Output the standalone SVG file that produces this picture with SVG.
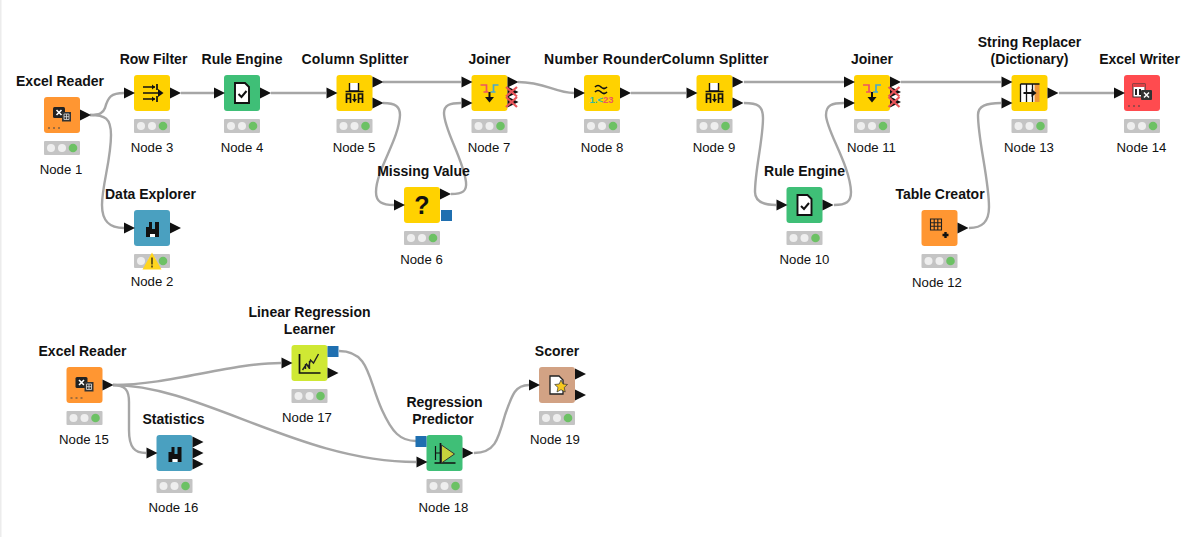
<svg xmlns="http://www.w3.org/2000/svg" xmlns:xlink="http://www.w3.org/1999/xlink" width="1190" height="537" viewBox="0 0 1190 537">
<style>
text{font-family:"Liberation Sans",Arial,sans-serif;fill:#111;text-anchor:middle}
.t{font-size:14px;font-weight:bold}
.n{font-size:13.200px}
.c{fill:none;stroke:#a6a6a6;stroke-width:2.400}
.k{fill:#111}
.l{fill:none;stroke:#111;stroke-width:1.700}
.o{fill:#ff9632}.y{fill:#ffd200}.g{fill:#3fbf77}.u{fill:#4aa0c0}.r{fill:#ff4b4f}.m{fill:#cfe834}.s{fill:#d2a284}
.x{fill:none;stroke:#e8555a;stroke-width:2.200}
</style>
<defs>
<polygon id="p" points="0,-5.500 11,0 0,5.500" fill="#111"/>
<g id="lights"><rect x="0" y="44" width="36" height="14" rx="1" fill="#c4c4c4"/><circle cx="7" cy="51" r="4" fill="#eee"/><circle cx="18" cy="51" r="4" fill="#eee"/><circle cx="29" cy="51" r="4.300" fill="#6cc164"/></g>
<rect id="box" width="36" height="36" rx="3"/>
<g id="blue"><rect width="11" height="11" fill="#1f6fb0"/></g>
<g id="excel"><rect x="9" y="10" width="12" height="11" rx="1.500" fill="#222"/><path d="M12.500 13l5 5M17.500 13l-5 5" stroke="#fff" stroke-width="1.600"/><rect x="18" y="15" width="9" height="9.500" fill="#333"/><path d="M20 17h5v5.500h-5zM20 19.700h5M22.500 17v5.500" stroke="#ddd" stroke-width=".8" fill="none"/><path d="M4 31h2M9 31h2M14 31h2" stroke="#444" stroke-width="1"/></g>
<g id="split"><path d="M13 8v8h9v-8" fill="#fff" stroke="none"/><path d="M13 8v8h9v-8" fill="none" stroke="#111" stroke-width="1.400"/><path d="M9 16.500h18" stroke="#111" stroke-width="1.500"/><path class="l" d="M10 28v-9h4v9M10 23.500h4M22 28v-9h4v9M22 23.500h4M18 19v6"/><path class="k" d="M15.500 24h5l-2.500 3.500z"/></g>
<g id="join"><path d="M9 10h6v7M12 17h5" fill="none" stroke="#ee5560" stroke-width="1.700"/><path d="M27 10h-5v7M19 17h5" fill="none" stroke="#4aa8cc" stroke-width="1.700"/><path d="M18 17v8" stroke="#111" stroke-width="2"/><path class="k" d="M13.500 22h9l-4.500 5.500z"/></g>
<g id="crossed"><path class="x" d="M34.500 12l11 9.500M45.500 12l-11 9.500M34.500 22l11 10M45.500 22l-11 10"/></g>
<g id="rule"><path d="M11 8h10l4 4v16h-14z" fill="#fff" stroke="#111" stroke-width="1.900"/><path d="M14.500 19l3 3 5-6" fill="none" stroke="#111" stroke-width="2"/></g>
<g id="stat"><path class="k" d="M12 17h3v-5h3v7h3v-7h4v15h-4v-3h-5v3h-4z"/><rect x="16" y="24" width="5" height="3" fill="#fff"/></g>
</defs>
<rect width="1190" height="537" fill="#fff"/>
<rect width="1.500" height="537" fill="#ececec"/>
<g id="connectors">
<path class="c" d="M90 115C100 115 103 113 105 108 108 97 111 93 124 93"/>
<path class="c" d="M90 115C105 115 111 118 111 135 111 160 102 185 102 205 102 222 110 228 124 228"/>
<path class="c" d="M181 93H214"/>
<path class="c" d="M271 93H326"/>
<path class="c" d="M383 82H461"/>
<path class="c" d="M383 103C396 103 400 107 400 115 399 140 376 170 376 192 376 202 382 205 394 205"/>
<path class="c" d="M451 194C463 194 467 191 466 182 463 158 444 130 444 113 444 105 450 103 461 103"/>
<path class="c" d="M518 82C545 82 555 93 574 93"/>
<path class="c" d="M631 93H686"/>
<path class="c" d="M744 82H844"/>
<path class="c" d="M744 103C758 103 763 106 763 118 763 140 755 170 755 192 755 201 762 205 776 205"/>
<path class="c" d="M834 205C846 205 851 202 851 192 850 165 826 130 826 115 826 105 832 103 844 103"/>
<path class="c" d="M901 82H1001"/>
<path class="c" d="M969 228C983 228 989 221 989 207 989 180 978 140 978 115 978 106 986 103 1001 103"/>
<path class="c" d="M1059 93H1114"/>
<path class="c" d="M113 385C170 385 230 363 281 363"/>
<path class="c" d="M113 385C200 385 300 462 416 462"/>
<path class="c" d="M113 385C125 385 129 390 129 402V430C129 448 135 453 146 453"/>
<path class="c" d="M339 351C370 351 368 380 382 410 392 432 400 441 416 441"/>
<path class="c" d="M474 453C495 453 498 440 505 415 512 395 515 385 529 385"/>
</g>
<g id="node1" transform="translate(44,97)"><use href="#box" class="o"/><use href="#excel"/><use href="#lights"/><use href="#p" x="36" y="18"/><text class="t" x="16" y="-11">Excel Reader</text><text class="n" x="17" y="77">Node 1</text></g>
<g id="node2" transform="translate(134,210)"><use href="#box" class="u"/><use href="#stat"/><use href="#lights"/><use href="#p" x="-10" y="18"/><use href="#p" x="36" y="18"/><path d="M18 42.500l9.500 17h-19z" fill="#ffd51e"/><path d="M18 47.500v7M18 55.500v2" stroke="#111" stroke-width="1.200"/><text class="t" x="16.500" y="-11">Data Explorer</text><text class="n" x="18" y="76">Node 2</text></g>
<g id="node3" transform="translate(134,75)"><use href="#box" class="y"/><path d="M9 12h12M9 24h12M9 18h17" class="l"/><path d="M23 9v6M23 21v6" class="l"/><path class="k" d="M18 9.500l3 2.500-3 2.500zM18 21.500l3 2.500-3 2.500zM24 14l5.500 4-5.500 4z"/><use href="#lights"/><use href="#p" x="-10" y="18"/><use href="#p" x="36" y="18"/><text class="t" x="19.500" y="-11">Row Filter</text><text class="n" x="18" y="77">Node 3</text></g>
<g id="node4" transform="translate(224,75)"><use href="#box" class="g"/><use href="#rule"/><use href="#lights"/><use href="#p" x="-10" y="18"/><use href="#p" x="36" y="18"/><text class="t" x="18" y="-11">Rule Engine</text><text class="n" x="18" y="77">Node 4</text></g>
<g id="node5" transform="translate(336.500,75)"><use href="#box" class="y"/><use href="#split"/><use href="#lights"/><use href="#p" x="-10" y="18"/><use href="#p" x="36" y="7"/><use href="#p" x="36" y="28"/><text class="t" x="18.500" y="-11" textLength="107" lengthAdjust="spacing">Column Splitter</text><text class="n" x="17.500" y="77">Node 5</text></g>
<g id="node6" transform="translate(404,187)"><use href="#box" class="y"/><text x="18" y="27" style="font-size:25px;font-weight:bold">?</text><use href="#lights"/><use href="#p" x="-10" y="18"/><use href="#p" x="36" y="7"/><use href="#blue" x="37" y="23"/><text class="t" x="19.500" y="-11">Missing Value</text><text class="n" x="17.500" y="77">Node 6</text></g>
<g id="node7" transform="translate(471.500,75)"><use href="#box" class="y"/><use href="#join"/><use href="#lights"/><use href="#p" x="-10" y="7"/><use href="#p" x="-10" y="28"/><use href="#p" x="36" y="7"/><use href="#p" x="36" y="17"/><use href="#p" x="36" y="27"/><use href="#crossed"/><text class="t" x="18" y="-11">Joiner</text><text class="n" x="17.500" y="77">Node 7</text></g>
<g id="node8" transform="translate(584,75)"><use href="#box" class="y"/><path d="M11 12q3-3 6 0t6 0M11 17q3-3 6 0t6 0" class="l"/><text x="17.500" y="28" style="font-size:9.500px;font-weight:bold"><tspan fill="#35b8a0">1.&lt;</tspan><tspan fill="#ee5560">23</tspan></text><use href="#lights"/><use href="#p" x="-10" y="18"/><use href="#p" x="36" y="18"/><text class="t" x="19" y="-11" textLength="118" lengthAdjust="spacing">Number Rounder</text><text class="n" x="18" y="77">Node 8</text></g>
<g id="node9" transform="translate(696.500,75)"><use href="#box" class="y"/><use href="#split"/><use href="#lights"/><use href="#p" x="-10" y="18"/><use href="#p" x="36" y="7"/><use href="#p" x="36" y="28"/><text class="t" x="18.500" y="-11" textLength="107" lengthAdjust="spacing">Column Splitter</text><text class="n" x="17.500" y="77">Node 9</text></g>
<g id="node10" transform="translate(786.500,187)"><use href="#box" class="g"/><use href="#rule"/><use href="#lights"/><use href="#p" x="-10" y="18"/><use href="#p" x="36" y="18"/><text class="t" x="18" y="-11">Rule Engine</text><text class="n" x="18" y="77">Node 10</text></g>
<g id="node11" transform="translate(854,75)"><use href="#box" class="y"/><use href="#join"/><use href="#lights"/><use href="#p" x="-10" y="7"/><use href="#p" x="-10" y="28"/><use href="#p" x="36" y="7"/><use href="#p" x="36" y="17"/><use href="#p" x="36" y="27"/><use href="#crossed"/><text class="t" x="18" y="-11">Joiner</text><text class="n" x="17.500" y="77">Node 11</text></g>
<g id="node12" transform="translate(921.500,210)"><use href="#box" class="o"/><path d="M9 9h11v11h-11zM9 12.700h11M9 16.300h11M12.700 9v11M16.300 9v11" fill="none" stroke="#222" stroke-width="1.100"/><path d="M24 22v6M21 25h6" stroke="#111" stroke-width="2.400"/><use href="#lights"/><use href="#p" x="36" y="18"/><text class="t" x="18.500" y="-11">Table Creator</text><text class="n" x="15.500" y="77">Node 12</text></g>
<g id="node13" transform="translate(1011.500,75)"><use href="#box" class="y"/><rect x="9" y="9" width="18" height="18" fill="#fff"/><rect x="23" y="9" width="5" height="18" fill="#ef9636"/><path d="M9 9h19M9 9v18M15 9v18M21 9v18" stroke="#111" stroke-width="1.300" fill="none"/><path d="M12 18h9" stroke="#111" stroke-width="2"/><path class="k" d="M20 14l5 4-5 4z"/><use href="#lights"/><use href="#p" x="-10" y="7"/><use href="#p" x="-10" y="28"/><use href="#p" x="36" y="18"/><text class="t" x="18" y="-11">(Dictionary)</text><text class="t" x="18" y="-28">String Replacer</text><text class="n" x="17.500" y="77">Node 13</text></g>
<g id="node14" transform="translate(1124,75)"><use href="#box" class="r"/><rect x="9" y="9" width="12" height="13" fill="#fff" stroke="#333" stroke-width="1"/><rect x="9" y="9" width="12" height="3" fill="#e04045"/><path d="M12 14v6M16 14v6" stroke="#222" stroke-width="2"/><rect x="17" y="15" width="11" height="10" rx="1" fill="#333"/><path d="M20 17.500l5 5M25 17.500l-5 5" stroke="#fff" stroke-width="1.500"/><path d="M4 31h2M9 31h2M14 31h2" stroke="#444" stroke-width="1"/><use href="#lights"/><use href="#p" x="-10" y="18"/><text class="t" x="15.500" y="-11">Excel Writer</text><text class="n" x="17.500" y="77">Node 14</text></g>
<g id="node15" transform="translate(66.500,367)"><use href="#box" class="o"/><use href="#excel"/><use href="#lights"/><use href="#p" x="36" y="18"/><text class="t" x="16" y="-11">Excel Reader</text><text class="n" x="17.500" y="77">Node 15</text></g>
<g id="node16" transform="translate(156.500,435)"><use href="#box" class="u"/><use href="#stat"/><use href="#lights"/><use href="#p" x="-10" y="18"/><use href="#p" x="36" y="7"/><use href="#p" x="36" y="18"/><use href="#p" x="36" y="29"/><text class="t" x="17" y="-11">Statistics</text><text class="n" x="17" y="77">Node 16</text></g>
<g id="node17" transform="translate(291.500,345)"><use href="#box" class="m"/><path class="l" d="M8 9v19h21"/><path d="M11 25l4-6 2 3 2-7 3 3 5-9M14 24v-5M18 24v-8" fill="none" stroke="#222" stroke-width="1.400"/><use href="#lights"/><use href="#p" x="-10" y="18"/><use href="#blue" x="36" y="1"/><use href="#p" x="36" y="28"/><text class="t" x="18" y="-11">Learner</text><text class="t" x="18" y="-28">Linear Regression</text><text class="n" x="15.500" y="77">Node 17</text></g>
<g id="node18" transform="translate(426.500,435)"><use href="#box" class="g"/><path d="M8 28h21M14 8v20" class="l"/><path d="M9 11v14M9 18h5" stroke="#111" stroke-width="1.200" fill="none"/><path d="M15 10l13 9-13 9z" fill="#c6d13c" stroke="#333" stroke-width="1"/><use href="#lights"/><use href="#blue" x="-11" y="1"/><use href="#p" x="-10" y="27"/><use href="#p" x="36" y="18"/><text class="t" x="16.500" y="-11">Predictor</text><text class="t" x="18" y="-28">Regression</text><text class="n" x="17" y="77">Node 18</text></g>
<g id="node19" transform="translate(539,367)"><use href="#box" class="s"/><path d="M11 9h9l4 4v14h-13z" fill="#fff" stroke="#222" stroke-width="1.300"/><path d="M22 13l2 4 4.500.5-3.300 3 1 4.500-4.200-2.300-4 2.300 1-4.500-3.300-3 4.500-.5z" fill="#f6c91e" stroke="#333" stroke-width=".7"/><use href="#lights"/><use href="#p" x="-10" y="18"/><use href="#p" x="36" y="7"/><use href="#p" x="36" y="28"/><text class="t" x="18" y="-11">Scorer</text><text class="n" x="16" y="77">Node 19</text></g>
</svg>
